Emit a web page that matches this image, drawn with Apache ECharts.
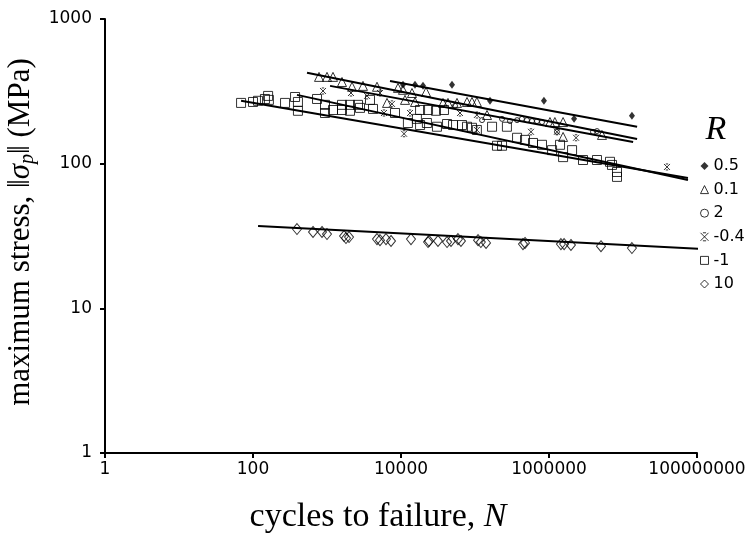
<!DOCTYPE html>
<html>
<head>
<meta charset="utf-8">
<script src="https://cdn.jsdelivr.net/npm/echarts@6/dist/echarts.min.js"></script>
<style>
  html, body { margin: 0; padding: 0; background: #fff; }
  #chart { width: 754px; height: 537px; }
</style>
</head>
<body>
<div id="chart"></div>
<script>
// Fatigue data: cycles to failure N and maximum stress (MPa) for each stress ratio R
const ratioNames = ['0.5', '0.1', '2', '-0.4', '-1', '10'];
const xTickValues = [1, 100, 10000, 1000000, 100000000];
const yTickValues = [1, 10, 100, 1000];

const cyclesR05 = [10640, 15460, 19820, 48900, 159600, 855000, 2180000, 13200000];
const stressR05 = [351, 351, 345, 351, 272, 272, 204, 214];

const cyclesR01 = [780, 1000, 1205, 1595, 2178, 3064, 4740, 9110, 10640, 14080, 11330, 15460, 6470,
  36950, 43150, 57100, 78000, 91000, 106000, 145300, 1030000, 1200000, 1550000, 1550000, 5200000, 21770];
const stressR01 = [398, 398, 398, 367, 340, 345, 340, 334, 324, 308, 276, 267, 263,
  263, 263, 263, 267, 267, 267, 217, 194, 194, 194, 153, 158, 313];

const cyclesR2 = [53700, 124500, 232000, 297000, 370000, 431000, 504000, 589000, 688000, 804000, 1280000, 3930000, 4450000];
const stressR2 = [251, 200, 204, 197, 200, 204, 200, 197, 197, 194, 166, 166, 168];

const cyclesRm04 = [883, 2110, 3474, 5200, 7550, 5890, 13240, 10990, 62700, 106000, 106000, 571000, 1280000, 2320000, 39300000];
const stressRm04 = [318, 308, 294, 308, 259, 224, 224, 161, 224, 217, 171, 166, 166, 151, 94.9];

const cyclesRm1 = [69, 100, 117, 145, 160, 164, 271, 370, 405, 405, 733, 940, 940, 1205, 1595, 1595, 2045, 2045,
  2625, 2793, 3810, 4185, 8300, 12400, 16400, 18100, 22400, 30600, 41900, 50500, 66700, 78000, 91000, 106000,
  18100, 23200, 29700, 38100, 170000, 270000, 198000, 232000, 370000, 474000, 608000, 804000, 1100000, 1410000,
  1550000, 2050000, 2880000, 4450000, 6670000, 7100000, 8300000, 8300000];
const stressRm1 = [263, 267, 272, 280, 294, 276, 263, 289, 267, 232, 280, 255, 224, 235, 255, 235, 255, 232,
  255, 243, 276, 239, 224, 191, 204, 185, 191, 180, 188, 185, 185, 180, 177, 171,
  235, 235, 232, 235, 180, 180, 133, 133, 151, 146, 139, 135, 124, 135,
  111, 124, 106, 106, 103, 98, 87.6, 81];

const cyclesR10 = [393, 647, 856, 1000, 1700, 1805, 1985, 4740, 5200, 6270, 7330, 13650, 23200, 23900, 31600,
  41900, 47400, 58900, 64600, 110000, 120000, 141000, 445000, 474000, 1450000, 1600000, 1980000, 5040000, 13200000];
const stressR10 = [35.3, 33.7, 33.7, 32.6, 31.6, 30.6, 31.1, 30.1, 29.6, 30.1, 29.2, 30.1, 28.7, 29.2, 29.2,
  28.7, 29.2, 30.1, 29.2, 29.6, 28.7, 28.3, 27.8, 28.3, 27.8, 27.8, 27.4, 26.9, 26.1];

// Power-law fit lines (end points) for each ratio
const fitCyclesR05 = [7100, 15500000];       const fitStressR05 = [373, 180];
const fitCyclesR01 = [537, 15500000];        const fitStressR01 = [425, 148];
const fitCyclesR2 = [1100, 13700000];        const fitStressR2 = [345, 141];
const fitCyclesRm04 = [393, 75500000];       const fitStressRm04 = [299, 77.1];
const fitCyclesRm1 = [69, 75500000];         const fitStressRm1 = [272, 79.6];
const fitCyclesR10 = [117, 128000000];       const fitStressR10 = [37.1, 25.7];

const zip = (xs, ys) => xs.map((x, i) => [x, ys[i]]);

const hollow = { color: 'rgba(0,0,0,0)', borderColor: '#000', borderWidth: 1 };
const starPath = 'path://M0,0L10,10M10,0L0,10M3,0L7,0M3,10L7,10';

const markers = [
  { name: '0.5', x: cyclesR05, y: stressR05, symbol: 'diamond', size: [6, 8], style: { color: '#000' } },
  { name: '0.1', x: cyclesR01, y: stressR01, symbol: 'triangle', size: 9, style: hollow },
  { name: '2', x: cyclesR2, y: stressR2, symbol: 'circle', size: 5, style: hollow },
  { name: '-0.4', x: cyclesRm04, y: stressRm04, symbol: starPath, size: 6, style: hollow },
  { name: '-1', x: cyclesRm1, y: stressRm1, symbol: 'rect', size: 9, style: hollow },
  { name: '10', x: cyclesR10, y: stressR10, symbol: 'diamond', size: [9, 11], style: hollow }
];

const fits = [
  [fitCyclesR05, fitStressR05], [fitCyclesR01, fitStressR01], [fitCyclesR2, fitStressR2],
  [fitCyclesRm04, fitStressRm04], [fitCyclesRm1, fitStressRm1], [fitCyclesR10, fitStressR10]
];

const series = [];
fits.forEach(f => {
  series.push({
    type: 'line', data: zip(f[0], f[1]), showSymbol: false, silent: true,
    lineStyle: { color: '#000', width: 2 }, z: 1
  });
});
markers.forEach(m => {
  series.push({
    type: 'scatter', name: m.name, data: zip(m.x, m.y), symbol: m.symbol, symbolSize: m.size,
    itemStyle: m.style, z: 3
  });
});

const tickFont = { fontFamily: 'DejaVu Sans', fontSize: 17, color: '#000' };
const serif = 'Liberation Serif';

const chart = echarts.init(document.getElementById('chart'), null, { renderer: 'canvas' });
chart.setOption({
  animation: false,
  backgroundColor: '#fff',
  grid: { left: 105, right: 57, top: 19, bottom: 84, containLabel: false },
  xAxis: {
    type: 'log', logBase: 10, min: xTickValues[0], max: xTickValues[xTickValues.length - 1], interval: 2,
    axisLine: { lineStyle: { color: '#000', width: 2 } },
    axisTick: { show: true, length: 5, lineStyle: { color: '#000', width: 2 } },
    axisLabel: Object.assign({ margin: 8, formatter: v => String(Math.round(v)) }, tickFont),
    splitLine: { show: false }, minorTick: { show: false }
  },
  yAxis: {
    type: 'log', logBase: 10, min: yTickValues[0], max: yTickValues[yTickValues.length - 1], interval: 1,
    axisLine: { lineStyle: { color: '#000', width: 2 } },
    axisTick: { show: true, length: 5, lineStyle: { color: '#000', width: 2 } },
    axisLabel: Object.assign({ margin: 13, formatter: v => String(Math.round(v)) }, tickFont),
    splitLine: { show: false }
  },
  legend: {
    data: ratioNames, orient: 'vertical', left: 700, top: 158, padding: 0,
    itemWidth: 8, itemHeight: 8, itemGap: 7.6,
    itemStyle: { borderWidth: 1 },
    textStyle: { fontFamily: 'DejaVu Sans', fontSize: 16, color: '#000' },
    selectedMode: false
  },
  graphic: [
    {
      type: 'text', x: 716, y: 130,
      style: { text: 'R', font: 'italic 34px "' + serif + '"', fill: '#000', align: 'center', verticalAlign: 'middle' }
    },
    {
      type: 'text', x: 378, y: 517,
      style: {
        text: '{t|cycles to failure, }{i|N}', align: 'center', verticalAlign: 'middle',
        rich: {
          t: { fontFamily: serif, fontSize: 34, fill: '#000' },
          i: { fontFamily: serif, fontSize: 34, fontStyle: 'italic', fill: '#000' }
        }
      }
    },
    {
      type: 'text', x: 21, y: 232, rotation: Math.PI / 2,
      style: {
        text: '{t|maximum stress, \u2016}{i|\u03c3}{s|p}{t|\u2016 (MPa)}', align: 'center', verticalAlign: 'middle',
        rich: {
          t: { fontFamily: serif, fontSize: 31, fill: '#000' },
          i: { fontFamily: serif, fontSize: 31, fontStyle: 'italic', fill: '#000' },
          s: { fontFamily: serif, fontSize: 20, fontStyle: 'italic', fill: '#000', padding: [13, 0, 0, 0] }
        }
      }
    }
  ],
  series: series
});
</script>
</body>
</html>
